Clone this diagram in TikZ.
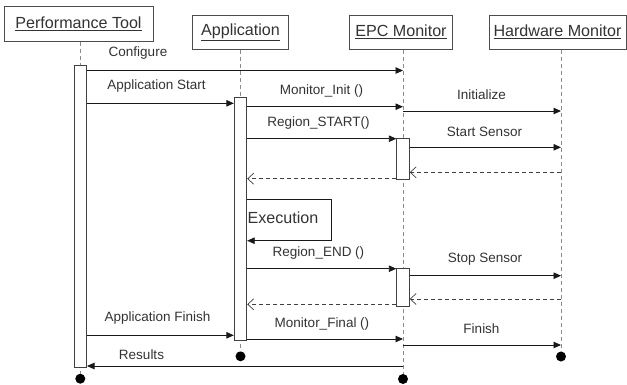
\documentclass[tikz,border=0pt]{standalone}
\usepackage{fontspec}
\setmainfont{Liberation Sans}
\usetikzlibrary{arrows.meta}
\begin{document}
\begin{tikzpicture}[x=1pt,y=-1pt,
  every node/.style={text=black!80},
  head/.style={draw=black!70, line width=0.8pt, fill=white, inner sep=0pt,
    font=\fontsize{16.1}{18}\selectfont},
  act/.style={draw=black!75, line width=0.8pt, fill=white, inner sep=0pt,
    minimum width=12.6pt},
  lbl/.style={font=\fontsize{13.5}{16}\selectfont, inner sep=0pt},
  life/.style={draw=black!45, dash pattern=on 4pt off 3pt, line width=0.8pt},
  msg/.style={draw=black!90, line width=0.9pt, -{Triangle[length=7.5pt,width=6.5pt]}},
  ret/.style={draw=black!75, line width=0.8pt, dash pattern=on 4pt off 3pt,
    -{Straight Barb[length=6pt,width=11pt,line width=0.7pt]}},
  endpt/.style={circle, fill=black, inner sep=0pt, minimum size=10pt}
]
\useasboundingbox (0,0) rectangle (627,384);

% participants
\node[head, minimum width=149pt, minimum height=35pt] (pt)  at (78.5,24.2) {\underline{Performance Tool}};
\node[head, minimum width=95.6pt, minimum height=34.3pt] (app) at (240.5,32.2) {\underline{Application}};
\node[head, minimum width=103.4pt, minimum height=34.3pt] (epc) at (401,32.2) {\underline{EPC Monitor}};
\node[head, minimum width=137pt, minimum height=34.3pt] (hw)  at (557.5,32.2) {\underline{Hardware Monitor}};

% end points of the lifelines
\node[endpt] (ptend)  at (80.3,378.7) {};
\node[endpt] (append) at (240.5,356.3) {};
\node[endpt] (epcend) at (403,379) {};
\node[endpt] (hwend)  at (561,356.5) {};

% lifelines
\draw[life] (pt.south -| ptend) -- (ptend);
\draw[life] (app.south -| append) -- (append);
\draw[life] (epc.south -| epcend) -- (epcend);
\draw[life] (hw.south -| hwend) -- (hwend);

% activation bars
\node[act, minimum height=301.6pt] (ptact)   at (80.3,216.5) {};
\node[act, minimum height=243.4pt] (appact)  at (240.5,219) {};
\node[act, minimum height=40.6pt]  (epcact1) at (403,159) {};
\node[act, minimum height=38pt]    (epcact2) at (403,287.7) {};

% messages
\draw[msg] (ptact.east |- 0,70.5) -- (epcend |- 0,70.5);
\node[lbl] (l1) at (138,53) {Configure};

\draw[msg] (ptact.east |- 0,103.3) -- (appact.west |- 0,103.3);
\node[lbl] (l2) at (156.5,86) {Application Start};

\draw[msg] (appact.east |- 0,106.7) -- (epcend |- 0,106.7);
\node[lbl] (l3) at (321.5,91) {Monitor\_Init ()};

\draw[msg] (epcend |- 0,111) -- (hwend |- 0,111);
\node[lbl] (l4) at (481.5,95) {Initialize};

\draw[msg] (appact.east |- 0,138.7) -- (epcact1.west |- 0,138.7);
\node[lbl] (l5) at (318.5,123) {Region\_START()};

\draw[msg] (epcact1.east |- 0,147.3) -- (hwend |- 0,147.3);
\node[lbl] (l6) at (484.5,132) {Start Sensor};

\draw[ret] (hwend |- 0,172.3) -- (epcact1.east |- 0,172.3);
\draw[ret] (epcact1.west |- 0,178.7) -- (appact.east |- 0,178.7);

% self call
\coordinate (loop) at (331,199);
\draw[msg] (appact.east |- loop) -- (loop) -- (loop |- 0,240.7) -- (appact.east |- 0,240.7);
\node[font=\fontsize{16.1}{18}\selectfont, inner sep=0pt] (exec) at (283,217.5) {Execution};

\draw[msg] (appact.east |- 0,268.7) -- (epcact2.west |- 0,268.7);
\node[lbl] (l7) at (318.5,253) {Region\_END ()};

\draw[msg] (epcact2.east |- 0,275.7) -- (hwend |- 0,275.7);
\node[lbl] (l8) at (485,259.5) {Stop Sensor};

\draw[ret] (hwend |- 0,299) -- (epcact2.east |- 0,299);
\draw[ret] (epcact2.west |- 0,304.3) -- (appact.east |- 0,304.3);

\draw[msg] (ptact.east |- 0,335.3) -- (appact.west |- 0,335.3);
\node[lbl] (l9) at (157.5,318.5) {Application Finish};

\draw[msg] (appact.east |- 0,339) -- (epcend |- 0,339);
\node[lbl] (l10) at (322,323.5) {Monitor\_Final ()};

\draw[msg] (epcend |- 0,345) -- (hwend |- 0,345);
\node[lbl] (l11) at (481.5,328.5) {Finish};

\draw[msg] (epcend |- 0,366) -- (ptact.east |- 0,366);
\node[lbl] (l12) at (141.5,354.5) {Results};
\end{tikzpicture}
\end{document}
